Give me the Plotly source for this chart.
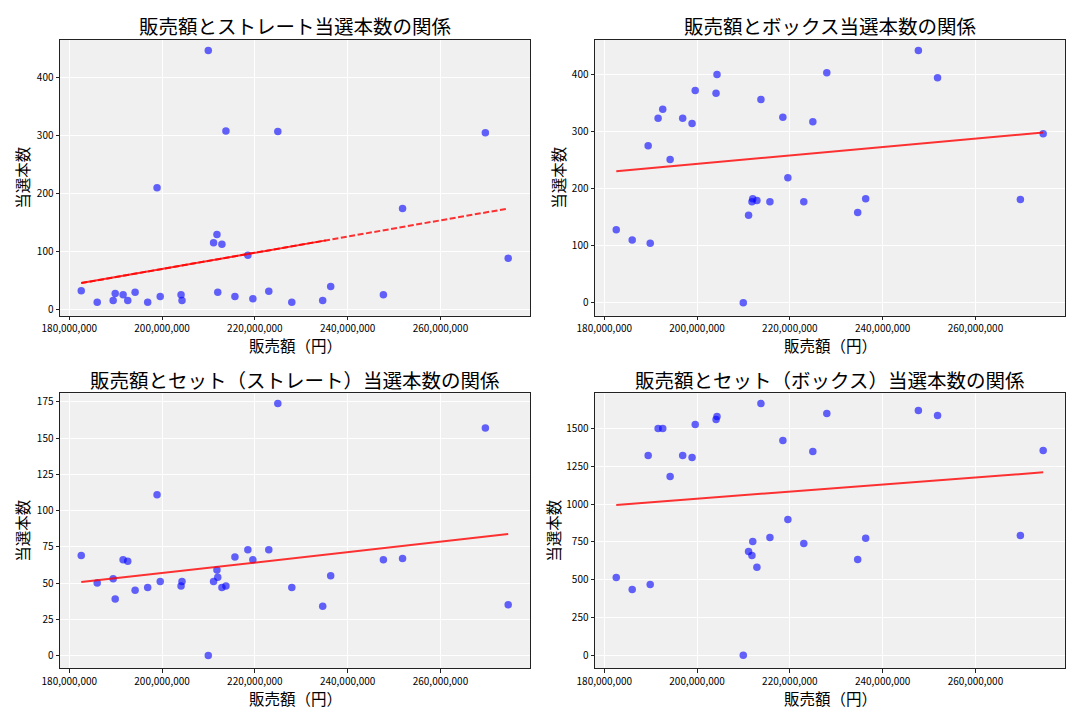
import numpy as np
import plotly.graph_objects as go

# ---- data ----
sales_m = [182.58, 186.02, 189.46, 189.9, 191.6, 192.6, 194.19, 196.9, 198.92, 199.6,
           204.09, 204.30, 209.96, 211.1, 211.83, 212.0, 212.90, 213.76, 215.7, 218.49,
           219.57, 223.0, 224.95, 227.96, 234.62, 236.34, 247.7, 251.83, 269.68, 274.6]
sales = [v * 1e6 for v in sales_m]

straight = [32, 12, 15, 27, 25, 15, 29, 12, 210, 22, 25, 15, 447, 115, 129, 29, 112, 308,
            22, 93, 18, 31, 307, 12, 15, 39, 25, 174, 305, 88]
box = [128, 110, 275, 104, 323, 339, 251, 323, 314, 372, 367, 400, 0, 153, 177, 182, 179,
       356, 177, 325, 219, 177, 317, 403, 158, 182, 442, 394, 181, 296]
set_straight = [69, 50, 53, 39, 66, 65, 45, 47, 111, 51, 48, 51, 0, 51, 59, 54, 47, 48, 68,
                73, 66, 73, 174, 47, 34, 55, 66, 67, 157, 35]
set_box = [515, 436, 1322, 469, 1500, 1500, 1183, 1322, 1308, 1526, 1560, 1579, 0, 687, 661,
           753, 582, 1665, 780, 1421, 899, 740, 1348, 1599, 634, 775, 1619, 1586, 793, 1355]

titles = ["販売額とストレート当選本数の関係", "販売額とボックス当選本数の関係",
          "販売額とセット（ストレート）当選本数の関係", "販売額とセット（ボックス）当選本数の関係"]
series = [straight, box, set_straight, set_box]
xlabel = "販売額（円）"
ylabel = "当選本数"
x_ticks = [180e6, 200e6, 220e6, 240e6, 260e6]
y_dticks = [100, 100, 25, 250]
y_ranges = [[-11.5, 466], [-23, 461], [-8.8, 181], [-85, 1733]]
x_range = [178.0e6, 279.3e6]

W, H = 1080, 720
FONT = "Noto Sans CJK JP"
# plot areas in pixels: (left, right, top, bottom)
boxes = [(60, 530, 39.6, 315.8), (595, 1065, 39.6, 315.8),
         (60, 530, 393.3, 668.2), (595, 1065, 393.3, 668.2)]
ylabel_x = [22, 558, 22, 553]

fig = go.Figure()
annotations = []
layout = {}

def px(x):
    return x / W

def py(y):
    return 1 - y / H

for i, ys in enumerate(series):
    n = "" if i == 0 else str(i + 1)
    xa, ya = "x" + n, "y" + n
    l, r, t, b = boxes[i]
    fig.add_trace(go.Scatter(
        x=sales, y=ys, mode="markers", xaxis=xa, yaxis=ya, showlegend=False,
        marker=dict(color="rgba(0,0,255,0.6)", size=7.5, line=dict(width=0)),
    ))
    xs = np.array(sales)
    k, c = np.polyfit(xs, np.array(ys, dtype=float), 1)
    lx = np.array([xs.min(), xs.max()])
    if i == 0:
        fig.add_trace(go.Scatter(
            x=lx, y=k * lx + c, mode="lines", xaxis=xa, yaxis=ya, showlegend=False,
            line=dict(color="rgba(255,0,0,0.8)", width=2, dash="6px,2.5px"),
        ))
        sx = np.array([xs.min(), 235.3e6])
        fig.add_trace(go.Scatter(
            x=sx, y=k * sx + c, mode="lines", xaxis=xa, yaxis=ya, showlegend=False,
            line=dict(color="rgba(255,0,0,0.8)", width=2),
        ))
    else:
        fig.add_trace(go.Scatter(
            x=lx, y=k * lx + c, mode="lines", xaxis=xa, yaxis=ya, showlegend=False,
            line=dict(color="rgba(255,0,0,0.8)", width=2),
        ))
    common = dict(showgrid=True, gridcolor="white", gridwidth=1, zeroline=False,
                  showline=True, linecolor="#222", linewidth=1, mirror=True,
                  ticks="outside", ticklen=3.5, tickwidth=1, tickcolor="#222",
                  automargin=False,
                  tickfont=dict(family=FONT, size=10, color="black"))
    layout["xaxis" + n] = dict(domain=[px(l), px(r)], anchor=ya, range=x_range,
                               tickvals=x_ticks, tickformat=",d", **common)
    layout["yaxis" + n] = dict(domain=[py(b), py(t)], anchor=xa, range=y_ranges[i],
                               dtick=y_dticks[i], tick0=0, **common)
    annotations.append(dict(text=titles[i], x=px((l + r) / 2), y=py(t - 14),
                            xref="paper", yref="paper", xanchor="center", yanchor="middle",
                            showarrow=False, font=dict(family=FONT, size=19.5, color="black")))
    annotations.append(dict(text=xlabel, x=px((l + r) / 2), y=py(b + 29.5),
                            xref="paper", yref="paper", xanchor="center", yanchor="middle",
                            showarrow=False, font=dict(family=FONT, size=15.5, color="black")))
    annotations.append(dict(text=ylabel, x=px(ylabel_x[i]), y=py((t + b) / 2),
                            xref="paper", yref="paper", xanchor="center", yanchor="middle",
                            textangle=-90, showarrow=False,
                            font=dict(family=FONT, size=15.5, color="black")))

fig.update_layout(
    width=W, height=H, autosize=False, margin=dict(l=0, r=0, t=0, b=0, pad=0, autoexpand=False),
    paper_bgcolor="white", plot_bgcolor="#f0f0f0",
    annotations=annotations, **layout,
)
fig.write_html("out.html", config={"displayModeBar": False},
               post_script="document.body.style.margin='0';")
